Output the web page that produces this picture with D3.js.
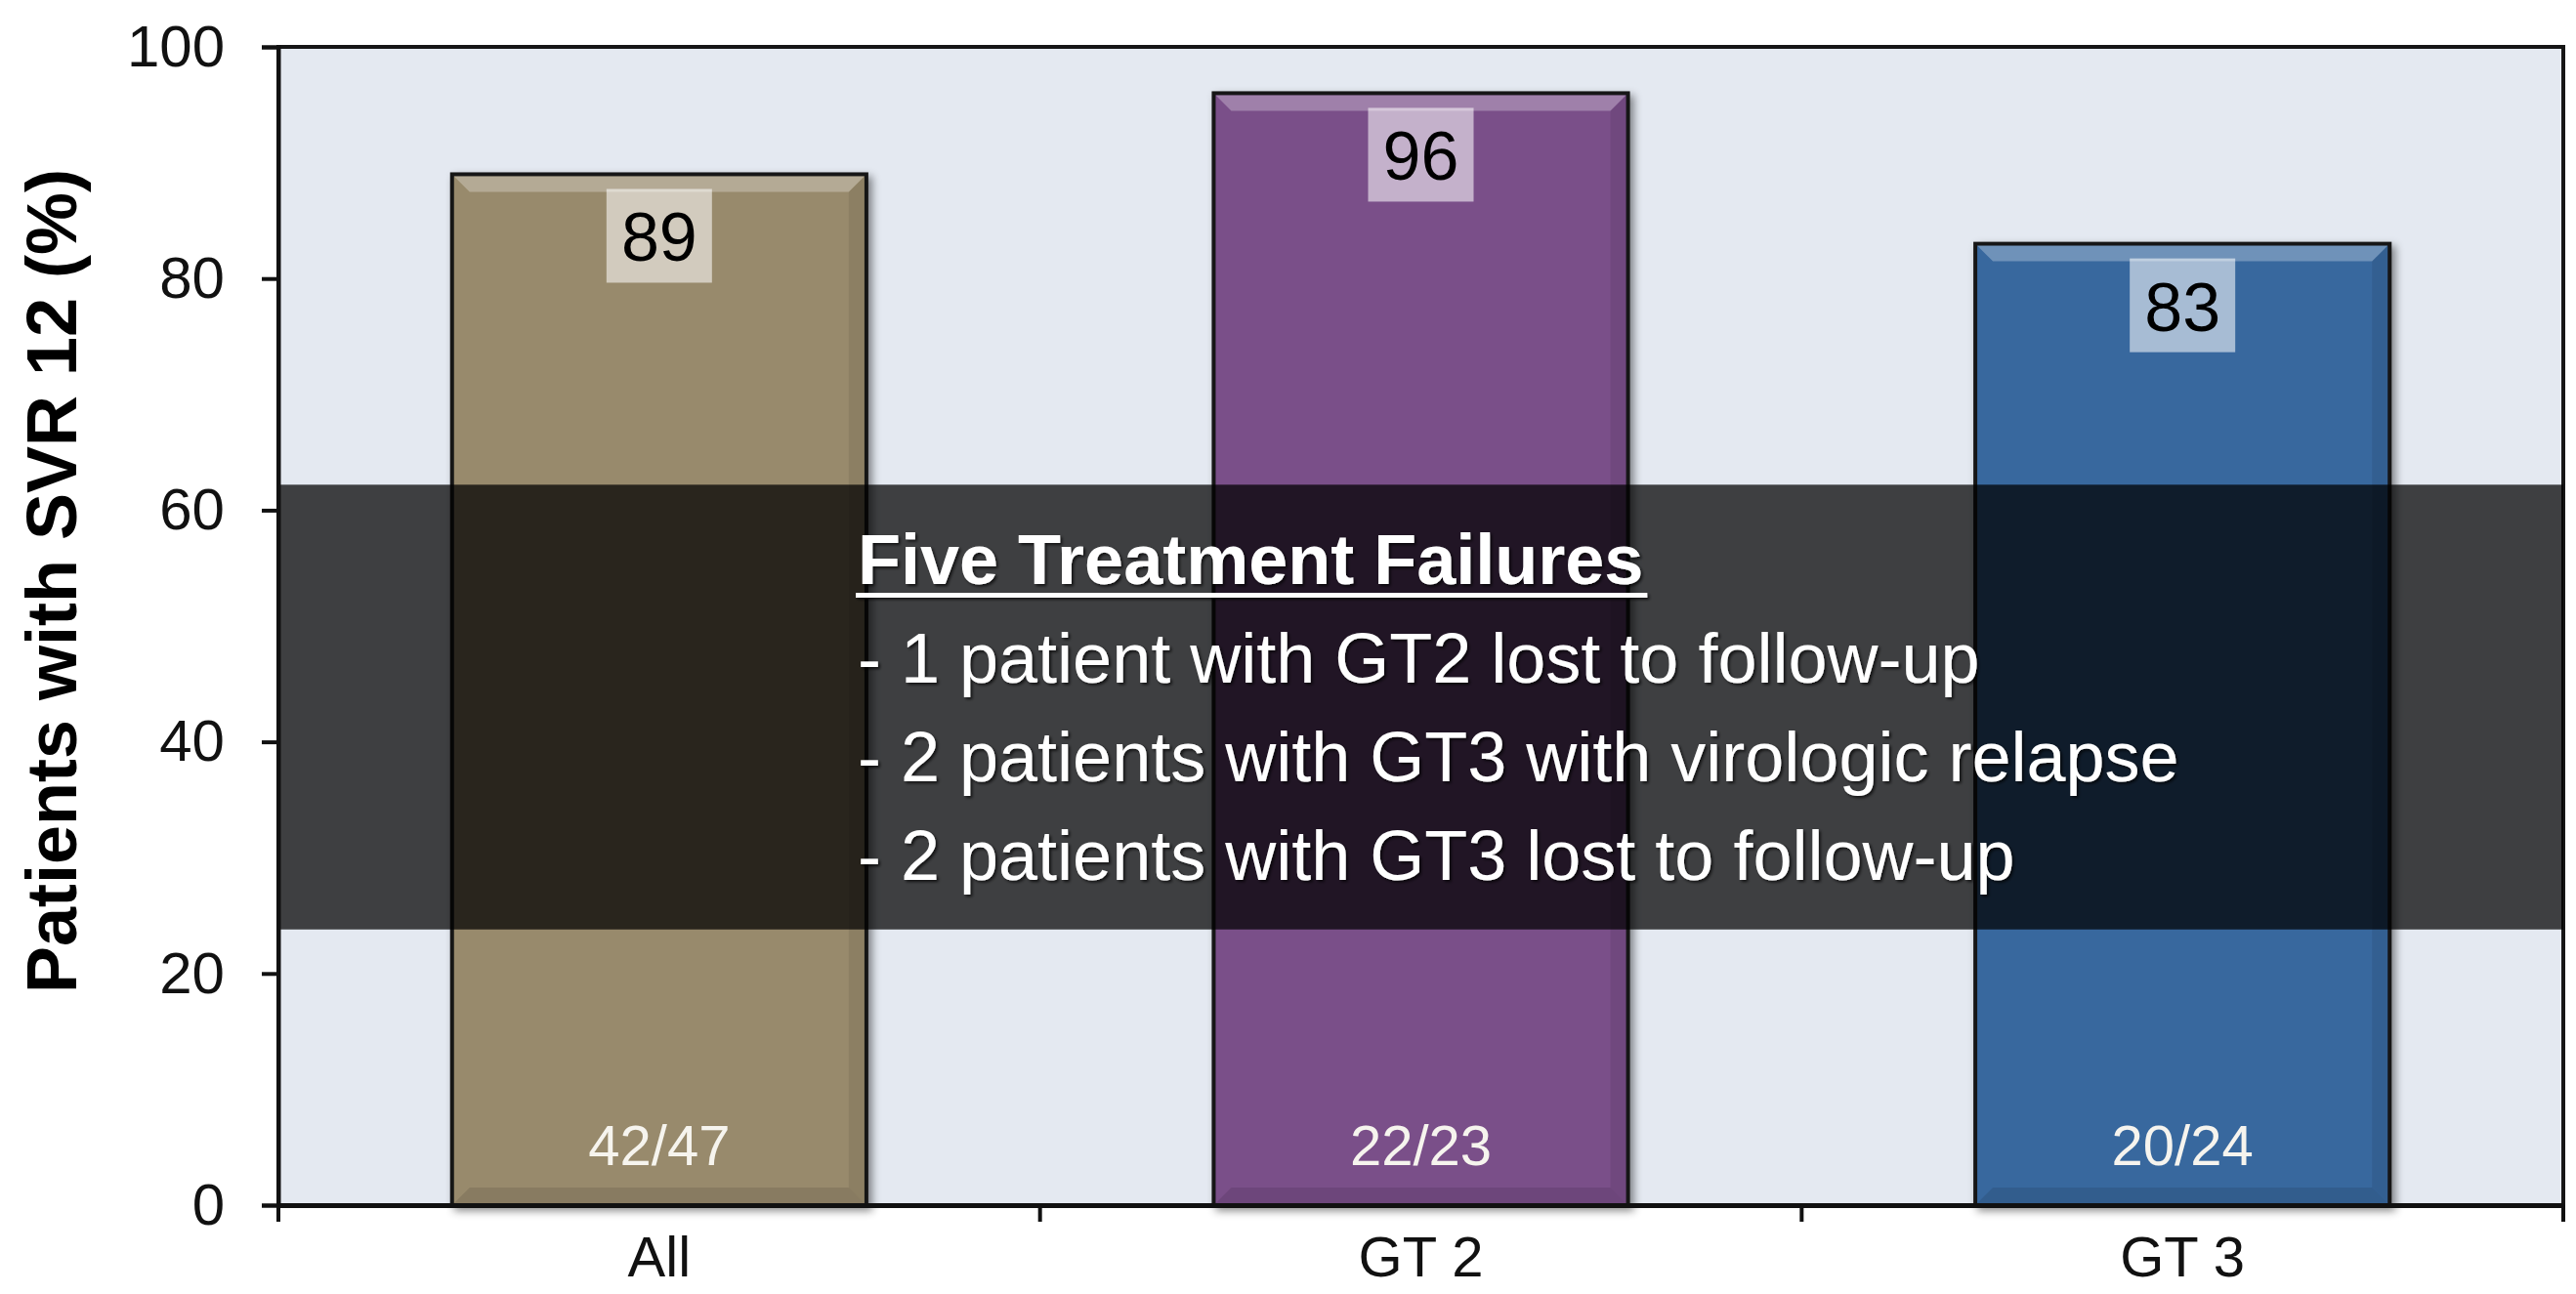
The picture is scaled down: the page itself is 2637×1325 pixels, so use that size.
<!DOCTYPE html>
<html>
<head>
<meta charset="utf-8">
<script src="https://cdn.jsdelivr.net/npm/d3@7"></script>
<style>
  body { margin: 0; background: #ffffff; }
  text { font-family: "Liberation Sans", Arial, sans-serif; }
</style>
</head>
<body>
<div id="chart"></div>
<script>
// chart values
var categories = ["All", "GT 2", "GT 3"];
var svrPercent = [89, 96, 83];
var responders = ["42/47", "22/23", "20/24"];
var yTickValues = [0, 20, 40, 60, 80, 100];
var yLabel = "Patients with SVR 12 (%)";
var failureTitle = "Five Treatment Failures";
var failureLines = [
  "- 1 patient with GT2 lost to follow-up",
  "- 2 patients with GT3 with virologic relapse",
  "- 2 patients with GT3 lost to follow-up"
];

var svgWidth = 2637;
var svgHeight = 1325;

var margin = { top: 48, right: 13, bottom: 91, left: 285 };
var width = svgWidth - margin.left - margin.right;
var height = svgHeight - margin.top - margin.bottom;

var svg = d3.select("#chart")
  .append("svg")
  .attr("width", svgWidth)
  .attr("height", svgHeight);

var defs = svg.append("defs");
var shadow = defs.append("filter")
  .attr("id", "barShadow")
  .attr("x", "-10%").attr("y", "-10%")
  .attr("width", "130%").attr("height", "130%");
shadow.append("feDropShadow")
  .attr("dx", 4).attr("dy", 4)
  .attr("stdDeviation", 4)
  .attr("flood-color", "#000")
  .attr("flood-opacity", 0.45);

var textShadow = defs.append("filter").attr("id", "textShadow");
textShadow.append("feDropShadow")
  .attr("dx", 2).attr("dy", 2)
  .attr("stdDeviation", 1.5)
  .attr("flood-color", "#000")
  .attr("flood-opacity", 0.7);

var chartGroup = svg.append("g")
  .attr("transform", `translate(${margin.left}, ${margin.top})`);

// scales
var xBandScale = d3.scaleBand()
  .domain(categories)
  .range([0, width])
  .paddingInner(0.456)
  .paddingOuter(0.228);

var yLinearScale = d3.scaleLinear()
  .domain([0, 100])
  .range([height, 0]);

var colorScale = d3.scaleOrdinal()
  .domain(categories)
  .range(["#988a6c", "#7a5089", "#38689e"]);

var rows = categories.map(function(c, i) {
  return { cat: c, value: svrPercent[i], n: responders[i] };
});

// plot background
chartGroup.append("rect")
  .attr("x", 0)
  .attr("y", 0)
  .attr("width", width)
  .attr("height", height)
  .attr("fill", "#e4e9f1");

// bars
var barGroups = chartGroup.selectAll(".bar")
  .data(rows)
  .enter()
  .append("g")
  .attr("class", "bar");

barGroups.append("rect")
  .attr("x", d => xBandScale(d.cat))
  .attr("y", d => yLinearScale(d.value))
  .attr("width", xBandScale.bandwidth())
  .attr("height", d => height - yLinearScale(d.value))
  .attr("fill", d => colorScale(d.cat))
  .attr("stroke", "#161616")
  .attr("stroke-width", 4)
  .attr("filter", "url(#barShadow)");

var bev = 16;
// top bevel highlight
barGroups.append("polygon")
  .attr("points", function(d) {
    var x0 = xBandScale(d.cat) + 2, x1 = xBandScale(d.cat) + xBandScale.bandwidth() - 2;
    var yt = yLinearScale(d.value) + 2;
    return [[x0, yt], [x1, yt], [x1 - bev, yt + bev], [x0 + bev, yt + bev]].join(" ");
  })
  .attr("fill", "#ffffff")
  .attr("fill-opacity", 0.28);

// right bevel shade
barGroups.append("polygon")
  .attr("points", function(d) {
    var x1 = xBandScale(d.cat) + xBandScale.bandwidth() - 2;
    var yt = yLinearScale(d.value) + 2, yb = height - 2;
    return [[x1, yt], [x1, yb], [x1 - bev, yb - bev], [x1 - bev, yt + bev]].join(" ");
  })
  .attr("fill", "#000000")
  .attr("fill-opacity", 0.08);

// bottom bevel shade
barGroups.append("polygon")
  .attr("points", function(d) {
    var x0 = xBandScale(d.cat) + 2, x1 = xBandScale(d.cat) + xBandScale.bandwidth() - 2;
    var yb = height - 2;
    return [[x0, yb], [x1, yb], [x1 - bev, yb - bev], [x0 + bev, yb - bev]].join(" ");
  })
  .attr("fill", "#000000")
  .attr("fill-opacity", 0.1);

// value label boxes
barGroups.append("rect")
  .attr("x", d => xBandScale(d.cat) + xBandScale.bandwidth() / 2 - 54)
  .attr("y", d => yLinearScale(d.value) + 15)
  .attr("width", 108)
  .attr("height", 96)
  .attr("fill", "#ffffff")
  .attr("fill-opacity", 0.56);

barGroups.append("text")
  .attr("x", d => xBandScale(d.cat) + xBandScale.bandwidth() / 2)
  .attr("y", d => yLinearScale(d.value) + 89)
  .attr("text-anchor", "middle")
  .style("font-size", "70px")
  .style("fill", "#000")
  .text(d => d.value);

// responder counts
barGroups.append("text")
  .attr("x", d => xBandScale(d.cat) + xBandScale.bandwidth() / 2)
  .attr("y", height - 41)
  .attr("text-anchor", "middle")
  .style("font-size", "58px")
  .style("fill", "#f6f4ee")
  .text(d => d.n);

// frame
chartGroup.append("rect")
  .attr("x", 0)
  .attr("y", 0)
  .attr("width", width)
  .attr("height", height)
  .attr("fill", "none")
  .attr("stroke", "#161616")
  .attr("stroke-width", 4);

// dark overlay with the failure notes
var bandTop = 62.2, bandBottom = 23.8;
chartGroup.append("rect")
  .attr("x", 0)
  .attr("y", yLinearScale(bandTop))
  .attr("width", width)
  .attr("height", yLinearScale(bandBottom) - yLinearScale(bandTop))
  .attr("fill", "#000")
  .attr("fill-opacity", 0.73);

var noteX = 878 - margin.left;
var noteY = 598 - margin.top;
var noteGroup = chartGroup.append("g").attr("filter", "url(#textShadow)");

var titleText = noteGroup.append("text")
  .attr("x", noteX)
  .attr("y", noteY)
  .style("font-size", "72px")
  .style("font-weight", "700")
  .style("fill", "#fff")
  .text(failureTitle);

var titleLen = titleText.node().getComputedTextLength();
noteGroup.append("rect")
  .attr("x", noteX - 2)
  .attr("y", noteY + 9)
  .attr("width", titleLen + 6)
  .attr("height", 5)
  .attr("fill", "#fff");

noteGroup.selectAll(".note")
  .data(failureLines)
  .enter()
  .append("text")
  .attr("class", "note")
  .attr("x", noteX)
  .attr("y", (d, i) => noteY + 101 * (i + 1))
  .style("font-size", "72px")
  .style("fill", "#fff")
  .text(d => d);

// axes
var yAxis = d3.axisLeft(yLinearScale)
  .tickValues(yTickValues)
  .tickSize(17)
  .tickPadding(38);

var yAxisG = chartGroup.append("g").call(yAxis);
yAxisG.select(".domain").attr("stroke", "#111").attr("stroke-width", 4);
yAxisG.selectAll(".tick line").attr("stroke", "#111").attr("stroke-width", 4);
yAxisG.selectAll(".tick text")
  .style("font-family", "'Liberation Sans', Arial, sans-serif")
  .style("font-size", "60px")
  .style("fill", "#111");

var xAxis = d3.axisBottom(xBandScale)
  .tickSize(0)
  .tickPadding(32);

var xAxisG = chartGroup.append("g")
  .attr("transform", `translate(0, ${height})`)
  .call(xAxis);
xAxisG.select(".domain").attr("stroke", "#111").attr("stroke-width", 5);
xAxisG.selectAll(".tick text")
  .style("font-family", "'Liberation Sans', Arial, sans-serif")
  .style("font-size", "58px")
  .style("fill", "#111");

// category boundary ticks
var step = xBandScale.step();
var boundaries = [0].concat(categories.map(c => xBandScale(c) + xBandScale.bandwidth() + step * xBandScale.paddingInner() / 2));
boundaries[boundaries.length - 1] = width;
chartGroup.selectAll(".xsep")
  .data(boundaries)
  .enter()
  .append("line")
  .attr("class", "xsep")
  .attr("x1", d => d)
  .attr("x2", d => d)
  .attr("y1", height)
  .attr("y2", height + 17)
  .attr("stroke", "#111")
  .attr("stroke-width", 4);

// y axis title
svg.append("text")
  .attr("transform", "translate(78, 595) rotate(-90)")
  .attr("text-anchor", "middle")
  .style("font-size", "72px")
  .style("font-weight", "700")
  .style("fill", "#000")
  .text(yLabel);
</script>
</body>
</html>
